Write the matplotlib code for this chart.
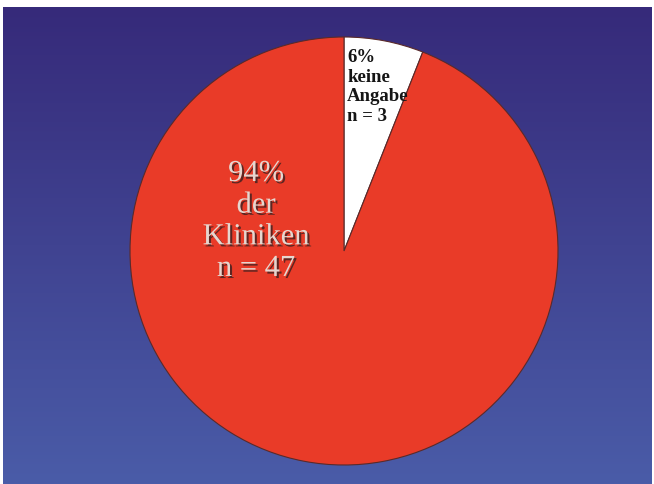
import numpy as np
import matplotlib
matplotlib.use("Agg")
import matplotlib.pyplot as plt
import matplotlib.patheffects as pe

# Share of clinics
labels = ["6%\nkeine\nAngabe\nn = 3", "94%\nder\nKliniken\nn = 47"]
counts = [3, 47]
colors = ["#FFFFFF", "#E93B28"]

W, H = 654, 484
fig = plt.figure(figsize=(W / 100, H / 100), dpi=100)
fig.patch.set_facecolor("white")
ax = fig.add_axes([0, 0, 1, 1])
ax.set_xlim(0, W)
ax.set_ylim(0, H)
ax.axis("off")

# vertical blue gradient backdrop
top = np.array([54, 42, 122]) / 255
bottom = np.array([74, 92, 168]) / 255
t = np.linspace(0, 1, 256)[:, None]
grad = (top[None, :] * (1 - t) + bottom[None, :] * t)[:, None, :]
ax.imshow(grad, extent=[3, 652, 0, H - 7], aspect="auto", zorder=0,
          interpolation="bilinear")

cx, cy, r = 344, H - 251, 214
wedges, _ = ax.pie(counts, colors=colors, startangle=90, counterclock=False,
                   center=(cx, cy), radius=r, frame=True,
                   wedgeprops=dict(edgecolor="#5a2a2a", linewidth=0.8, zorder=2))
ax.set_xlim(0, W)
ax.set_ylim(0, H)
ax.set_aspect("equal")
ax.axis("off")

ax.text(347, H - 49, labels[0], ha="left", va="top", fontsize=13.5,
        fontweight="bold", family="Liberation Serif", color="#151515",
        linespacing=1.2, zorder=3)

ax.text(256, H - 221, labels[1], ha="center", va="center", fontsize=22,
        family="Liberation Serif", color="#E6D6CF", linespacing=1.12, zorder=3,
        path_effects=[pe.withSimplePatchShadow(offset=(1.5, -1.5),
                                               shadow_rgbFace="#3a2020", alpha=0.8)])

fig.savefig("out.png", dpi=100, facecolor=fig.get_facecolor())
